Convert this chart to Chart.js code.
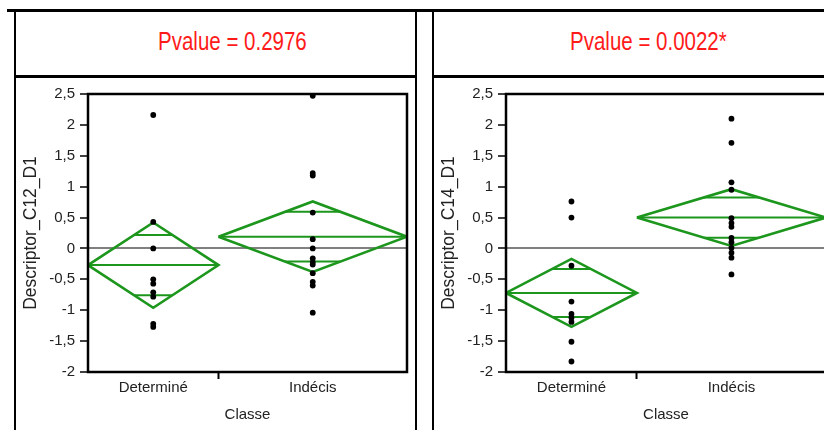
<!DOCTYPE html>
<html>
<head>
<meta charset="utf-8">
<script src="https://cdn.jsdelivr.net/npm/chart.js@4.4.1/dist/chart.umd.min.js"></script>
<style>
    html, body { margin: 0; padding: 0; background: #fff; }
    body { width: 824px; height: 430px; overflow: hidden; position: relative; }
    .line { position: absolute; background: #000; }
    .pval { position: absolute; top: 27px; color: #ff1a1a; font: 25px "Liberation Sans", Arial, sans-serif; white-space: nowrap; transform: scaleX(0.82); transform-origin: 0 0; }
    .plot { position: absolute; top: 80px; height: 350px; }
</style>
</head>
<body>
<!-- panel frames -->
<div class="line" style="left:7px; top:9px; width:817px; height:3px;"></div>
<div class="line" style="left:14px; top:9px; width:2px; height:421px;"></div>
<div class="line" style="left:415px; top:9px; width:2px; height:421px;"></div>
<div class="line" style="left:14px; top:75px; width:403px; height:3px;"></div>
<div class="line" style="left:432px; top:9px; width:2px; height:421px;"></div>
<div class="line" style="left:432px; top:75px; width:392px; height:3px;"></div>

<div class="pval" id="pv1" style="left:158px;"></div>
<div class="pval" id="pv2" style="left:570px;"></div>

<div class="plot" style="left:16px; width:399px;"><canvas id="chartC12"></canvas></div>
<div class="plot" style="left:434px; width:400px;"><canvas id="chartC14"></canvas></div>

<script>
var classes = ['Determiné', 'Indécis'];

// Descriptor_C12_D1 values per class
var c12Determine = [2.16, 0.43, 0.00, -0.50, -0.57, -0.71, -0.78, -1.22, -1.27];
var c12Indecis = [2.47, 1.22, 1.18, 0.58, 0.15, 0.00, -0.16, -0.22, -0.26, -0.40, -0.54, -0.60, -1.04];
var c12Mean = [-0.27, 0.19];
var c12CiLow = [-0.96, -0.38];
var c12CiHigh = [0.42, 0.76];

// Descriptor_C14_D1 values per class
var c14Determine = [0.76, 0.50, -0.28, -0.86, -1.06, -1.12, -1.19, -1.51, -1.83];
var c14Indecis = [2.10, 1.71, 1.07, 0.95, 0.49, 0.41, 0.35, 0.17, 0.10, 0.01, -0.07, -0.15, -0.42];
var c14Mean = [-0.72, 0.50];
var c14CiLow = [-1.27, 0.04];
var c14CiHigh = [-0.17, 0.96];

var pValues = ['Pvalue = 0.2976', 'Pvalue = 0.0022*'];
var yTicks = [-2, -1.5, -1, -0.5, 0, 0.5, 1, 1.5, 2, 2.5];

var green = 'rgb(28,150,28)';
var fontFamily = "'Liberation Sans', Arial, sans-serif";

document.getElementById('pv1').textContent = pValues[0];
document.getElementById('pv2').textContent = pValues[1];

// frame round the plot area
var framePlugin = {
    id: 'frame',
    afterDatasetsDraw: function (chart) {
        var a = chart.chartArea;
        var ctx = chart.ctx;
        ctx.save();
        ctx.strokeStyle = '#000';
        ctx.lineWidth = 2.5;
        ctx.strokeRect(a.left, a.top, a.right - a.left, a.bottom - a.top);
        ctx.restore();
    }
};

function seg(x1, y1, x2, y2, width) {
    return {
        type: 'line',
        data: [{x: x1, y: y1}, {x: x2, y: y2}],
        borderColor: green,
        borderWidth: width,
        pointRadius: 0,
        order: 2
    };
}

function makeChart(id, yTitle, groups, means, lows, highs, rightPad) {
    // group widths follow the number of observations
    var bounds = [0];
    groups.forEach(function (g) { bounds.push(bounds[bounds.length - 1] + g.length); });
    var total = bounds[bounds.length - 1];
    var centers = [];
    for (var i = 0; i < groups.length; i++) centers.push((bounds[i] + bounds[i + 1]) / 2);

    var datasets = [];
    var pts = [];
    groups.forEach(function (g, i) {
        g.forEach(function (v) { pts.push({x: centers[i], y: v}); });
    });
    datasets.push({
        type: 'scatter',
        data: pts,
        backgroundColor: '#000',
        borderColor: '#000',
        pointRadius: 2.9,
        borderWidth: 0,
        order: 0
    });

    groups.forEach(function (g, i) {
        var x0 = bounds[i], x1 = bounds[i + 1], xc = centers[i];
        var m = means[i], half = (highs[i] - lows[i]) / 2;
        // means diamond
        datasets.push({
            type: 'line',
            data: [{x: x0, y: m}, {x: xc, y: highs[i]}, {x: x1, y: m}, {x: xc, y: lows[i]}, {x: x0, y: m}],
            borderColor: green,
            borderWidth: 2.6,
            pointRadius: 0,
            order: 1
        });
        datasets.push(seg(x0, m, x1, m, 2));
        // overlap marks
        var d = half / Math.SQRT2;
        var w = (1 - d / half) * (x1 - x0) / 2;
        datasets.push(seg(xc - w, m + d, xc + w, m + d, 2));
        datasets.push(seg(xc - w, m - d, xc + w, m - d, 2));
    });

    return new Chart(id, {
        type: 'scatter',
        data: { datasets: datasets },
        plugins: [framePlugin],
        options: {
            responsive: true,
            maintainAspectRatio: false,
            animation: false,
            events: [],
            layout: { padding: { top: 12, right: rightPad, bottom: 0, left: 0 } },
            plugins: { legend: { display: false }, tooltip: { enabled: false } },
            scales: {
                x: {
                    type: 'linear',
                    min: 0,
                    max: total,
                    border: { display: false },
                    afterBuildTicks: function (scale) {
                        scale.ticks = [{value: centers[0]}, {value: bounds[1]}, {value: centers[1]}];
                    },
                    afterFit: function (scale) { scale.height = 58; },
                    grid: {
                        drawOnChartArea: false,
                        tickLength: 7,
                        tickWidth: 2,
                        tickColor: function (ctx) {
                            return ctx.tick && ctx.tick.value === bounds[1] ? '#000' : 'rgba(0,0,0,0)';
                        }
                    },
                    ticks: {
                        autoSkip: false,
                        maxRotation: 0,
                        padding: 0,
                        color: '#222',
                        font: { family: fontFamily, size: 15 },
                        callback: function (v) {
                            var k = centers.indexOf(v);
                            return k >= 0 ? classes[k] : '';
                        }
                    },
                    title: {
                        display: true,
                        text: 'Classe',
                        color: '#222',
                        font: { family: fontFamily, size: 15 },
                        padding: { top: 0, bottom: 6 }
                    }
                },
                y: {
                    min: -2,
                    max: 2.5,
                    border: { display: false },
                    afterBuildTicks: function (scale) {
                        scale.ticks = yTicks.map(function (v) { return {value: v}; });
                    },
                    afterFit: function (scale) { scale.width = 72; },
                    grid: {
                        tickLength: 8,
                        tickWidth: 1.5,
                        tickColor: '#000',
                        lineWidth: 2,
                        color: function (ctx) {
                            return ctx.tick && ctx.tick.value === 0 ? 'rgb(128,128,128)' : 'rgba(0,0,0,0)';
                        }
                    },
                    ticks: {
                        padding: 5,
                        color: '#222',
                        font: { family: fontFamily, size: 15 },
                        callback: function (v) { return String(v).replace('.', ','); }
                    },
                    title: {
                        display: true,
                        text: yTitle,
                        color: '#222',
                        font: { family: fontFamily, size: 17.5 },
                        padding: { top: 5, bottom: 0 }
                    }
                }
            }
        }
    });
}

makeChart('chartC12', 'Descriptor_C12_D1', [c12Determine, c12Indecis], c12Mean, c12CiLow, c12CiHigh, 8);
makeChart('chartC14', 'Descriptor_C14_D1', [c14Determine, c14Indecis], c14Mean, c14CiLow, c14CiHigh, 8);
</script>
</body>
</html>
